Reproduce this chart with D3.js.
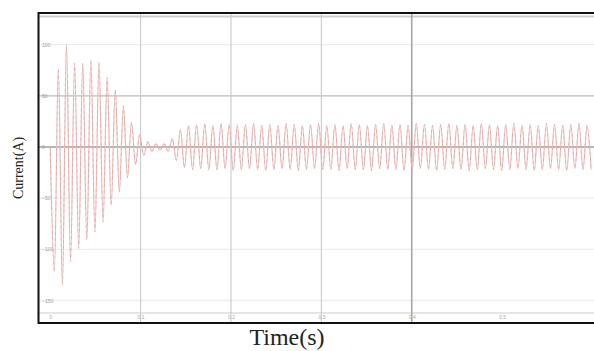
<!DOCTYPE html>
<html>
<head>
<meta charset="utf-8">
<script src="https://cdn.jsdelivr.net/npm/d3@7"></script>
<style>
  body { margin: 0; background: #fff; }
  svg { display: block; }
</style>
</head>
<body>
<div id="wrapper"></div>
<script>
// tick labels
const xTicks = [0, 0.1, 0.2, 0.3, 0.4, 0.5]
const xGrid = [0.1, 0.2, 0.3, 0.4]
const yTicks = [100, 50, 0, -50, -100, -150]

// current at each successive half-cycle peak (A), one value every halfPeriod seconds
const halfPeriod = 0.0045
const peakValues = [
  0, -122, 77, -135, 100, -112, 82, -99, 82, -91,
  85, -83, 83, -73, 68, -57, 56, -44, 40, -30,
  24, -17, 12, -8, 5, -4, 3, -3, 3, -4,
  8, -13, 17, -20, 21, -22, 22, -21, 23, -22,
  21, -22, 23, -21, 22, -23, 21, -22, 22, -21,
  23, -22, 21, -23, 22, -22, 21, -21, 23, -22,
  22, -23, 21, -22, 22, -21, 23, -22, 21, -22,
  22, -23, 21, -21, 23, -22, 22, -22, 21, -23,
  22, -21, 23, -22, 21, -22, 22, -23, 21, -22,
  23, -21, 22, -22, 21, -23, 22, -22, 23, -21,
  21, -22, 22, -23, 21, -22, 23, -21, 22, -22,
  21, -23, 22, -22, 23, -21, 21, -22, 22, -23,
  21, -22, 23, -21, 22, -22, 21, -23, 22, -21,
  23, -22, 21, -22
]

const width = 594
const height = 351
const dims = { left: 39, right: 600, top: 14, bottom: 322 }

const wrapper = d3.select("#wrapper")
  .append("svg")
    .attr("width", width)
    .attr("height", height)

const xScale = d3.scaleLinear()
  .domain([-0.0124, 0.6083])
  .range([dims.left, dims.right])

const yScale = d3.scaleLinear()
  .domain([-171, 130])
  .range([dims.bottom, dims.top])

// faint horizontal grid
wrapper.append("g")
  .selectAll("line")
  .data(yTicks)
  .join("line")
    .attr("x1", dims.left)
    .attr("x2", dims.right)
    .attr("y1", d => yScale(d))
    .attr("y2", d => yScale(d))
    .attr("stroke", d => d === 0 ? "#6e6e6e" : d === 50 ? "#bdbdbd" : "#eeeeee")
    .attr("stroke-width", d => d === 0 ? 1.2 : 1.3)

// extra border bands of the scope frame
wrapper.append("line")
  .attr("x1", dims.left).attr("x2", dims.right)
  .attr("y1", 16.5).attr("y2", 16.5)
  .attr("stroke", "#cfcfcf").attr("stroke-width", 2)
wrapper.append("line")
  .attr("x1", dims.left).attr("x2", dims.right)
  .attr("y1", 313).attr("y2", 313)
  .attr("stroke", "#dcdcdc").attr("stroke-width", 1.5)

// vertical grid
wrapper.append("g")
  .selectAll("line")
  .data(xGrid)
  .join("line")
    .attr("x1", d => xScale(d))
    .attr("x2", d => xScale(d))
    .attr("y1", dims.top)
    .attr("y2", dims.bottom)
    .attr("stroke", d => d === 0.4 ? "#a6a6a6" : "#cacaca")
    .attr("stroke-width", d => d === 0.4 ? 1.6 : 1.1)

// waveform
const line = d3.line()
  .x((d, i) => xScale(i * halfPeriod))
  .y(d => yScale(d))
  .curve(d3.curveCatmullRom)

const plot = wrapper.append("g")

plot.append("path")
  .datum(peakValues)
  .attr("d", line)
  .attr("fill", "none")
  .attr("stroke", "#f5b9b9")
  .attr("stroke-width", 1.2)

plot.append("path")
  .datum(peakValues)
  .attr("d", line)
  .attr("fill", "none")
  .attr("stroke", "#8a8a8a")
  .attr("stroke-width", 0.5)
  .attr("stroke-opacity", 0.5)
  .attr("stroke-dasharray", "3 3")

// axes, drawn small and faint like the scope export
const xAxis = wrapper.append("g")
  .attr("transform", `translate(0, ${dims.bottom})`)
  .call(d3.axisBottom(xScale).tickValues(xTicks).tickFormat(d => d).tickSize(0).tickPadding(-7))
xAxis.select(".domain").remove()
xAxis.selectAll("text")
  .attr("fill", "#a8a8a8")
  .style("font-size", "5px")
  .style("font-family", "Liberation Sans")

const yAxis = wrapper.append("g")
  .attr("transform", `translate(${dims.left}, 0)`)
  .call(d3.axisRight(yScale).tickValues(yTicks).tickSize(0).tickPadding(3))
yAxis.select(".domain").remove()
yAxis.selectAll("text")
  .attr("fill", "#a0a0a0")
  .style("font-size", "5px")
  .style("font-family", "Liberation Sans")

// frame: top, left, bottom
wrapper.append("path")
  .attr("d", d3.line()([[dims.right, 13], [dims.left - 0.5, 13], [dims.left - 0.5, 323], [dims.right, 323]]))
  .attr("fill", "none")
  .attr("stroke", "#111")
  .attr("stroke-width", 2)

// labels
wrapper.append("text")
  .attr("transform", `translate(23, ${(dims.top + dims.bottom) / 2}) rotate(-90)`)
  .attr("text-anchor", "middle")
  .style("font-family", "Liberation Serif")
  .style("font-size", "14px")
  .attr("fill", "#222")
  .text("Current(A)")

wrapper.append("text")
  .attr("x", 287)
  .attr("y", 345)
  .attr("text-anchor", "middle")
  .style("font-family", "Liberation Serif")
  .style("font-size", "24px")
  .attr("fill", "#222")
  .text("Time(s)")
</script>
</body>
</html>
